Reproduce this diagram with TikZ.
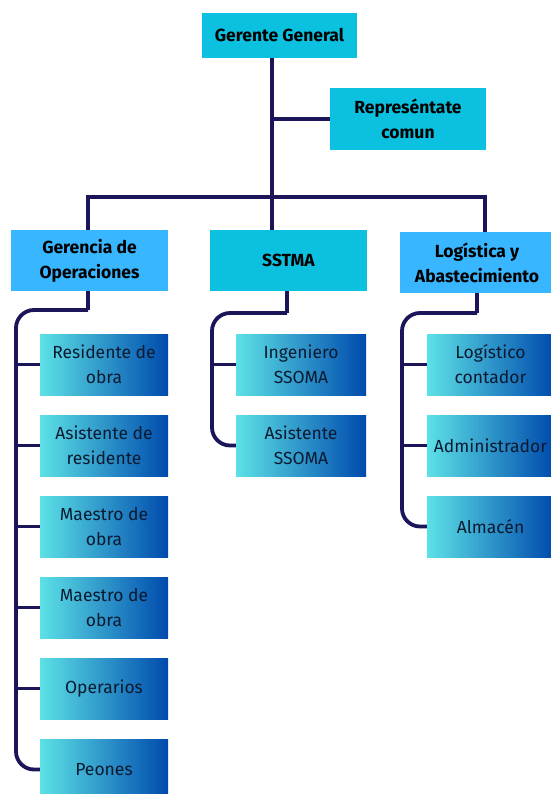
\documentclass[tikz,border=0pt]{standalone}
\usepackage{fontspec}
\setmainfont{Fira Sans}
\usepackage{xcolor}
\definecolor{cyanbox}{HTML}{0CC0DF}
\definecolor{skybox}{HTML}{38B6FF}
\definecolor{gradleft}{HTML}{5CE1E6}
\definecolor{gradright}{HTML}{004AAD}
\definecolor{linkcol}{HTML}{1A1659}
\definecolor{txtcol}{HTML}{0B1A30}
\tikzset{
  headbox/.style={minimum width=#1,minimum height=61pt,inner sep=0pt,align=center,
    font=\fontsize{17.5}{25}\selectfont\bfseries,text=black},
  unitbox/.style={shading=axis,left color=gradleft,right color=gradright,shading angle=90,
    minimum width=#1,minimum height=61pt,inner sep=0pt,align=center,
    font=\fontsize{17.5}{25}\selectfont,text=txtcol},
  link/.style={draw=linkcol,line width=3.8pt},
  elbow/.style={link,rounded corners=18pt}
}
\begin{document}
\begin{tikzpicture}[x=1pt,y=-1pt]
  \useasboundingbox (0,0) rectangle (550,794);
  % top level
  \node[headbox=155pt,minimum height=45pt,fill=cyanbox] (gg) at (279.5,35.5) {Gerente General};
  \node[headbox=156pt,minimum height=62pt,fill=cyanbox] (rc) at (408,119) {Represéntate\\comun};
  \node[headbox=157pt,fill=skybox] (go) at (89.5,260.5) {Gerencia de\\Operaciones};
  \node[headbox=157pt,fill=cyanbox] (ss) at (288.5,260.5) {SSTMA};
  \node[headbox=154pt,fill=skybox] (la) at (477,262.5) {Logística y\\Abastecimiento};
  \coordinate (trunk) at (272,58);
  \coordinate (bar) at (272,197);
  \coordinate (barl) at (88,197);
  \coordinate (barr) at (485,197);
  \draw[link] (trunk) -- (272,230);
  \draw[link] (272,119) -- (rc.west);
  \draw[link] (go.north -| barl) -- (barl) -- (barr) -- (la.north -| barr);
  % Gerencia de Operaciones
  \node[unitbox=128pt] (g1) at (104,364.5) {Residente de\\obra};
  \node[unitbox=128pt] (g2) at (104,445.5) {Asistente de\\residente};
  \node[unitbox=128pt] (g3) at (104,526.5) {Maestro de\\obra};
  \node[unitbox=128pt] (g4) at (104,607.5) {Maestro de\\obra};
  \node[unitbox=128pt] (g5) at (104,688.5) {Operarios};
  \node[unitbox=128pt] (g6) at (104,769.5) {Peones};
  \coordinate (gk) at (88,310);
  \draw[link] (88,291) -- (gk);
  \draw[elbow] (gk) -- (16,310) -- (16,769.5) -- (g6.west);
  \foreach \n in {g1,g2,g3,g4,g5}
    \draw[link] (16,0 |- \n.west) -- (\n.west);
  % SSTMA
  \node[unitbox=130pt] (s1) at (301,364.5) {Ingeniero\\SSOMA};
  \node[unitbox=130pt] (s2) at (301,445.5) {Asistente\\SSOMA};
  \coordinate (sk) at (287,313);
  \draw[link] (287,291) -- (sk);
  \draw[elbow] (sk) -- (212,313) -- (212,445.5) -- (s2.west);
  \draw[link] (212,0 |- s1.west) -- (s1.west);
  % Logistica y Abastecimiento
  \node[unitbox=127pt] (l1) at (490.5,364.5) {Logístico\\contador};
  \node[unitbox=127pt] (l2) at (490.5,445.5) {Administrador};
  \node[unitbox=127pt] (l3) at (490.5,526.5) {Almacén};
  \coordinate (lk) at (477,313);
  \draw[link] (la.south) -- (lk);
  \draw[elbow] (lk) -- (402,313) -- (402,526.5) -- (l3.west);
  \foreach \n in {l1,l2}
    \draw[link] (402,0 |- \n.west) -- (\n.west);
\end{tikzpicture}
\end{document}
